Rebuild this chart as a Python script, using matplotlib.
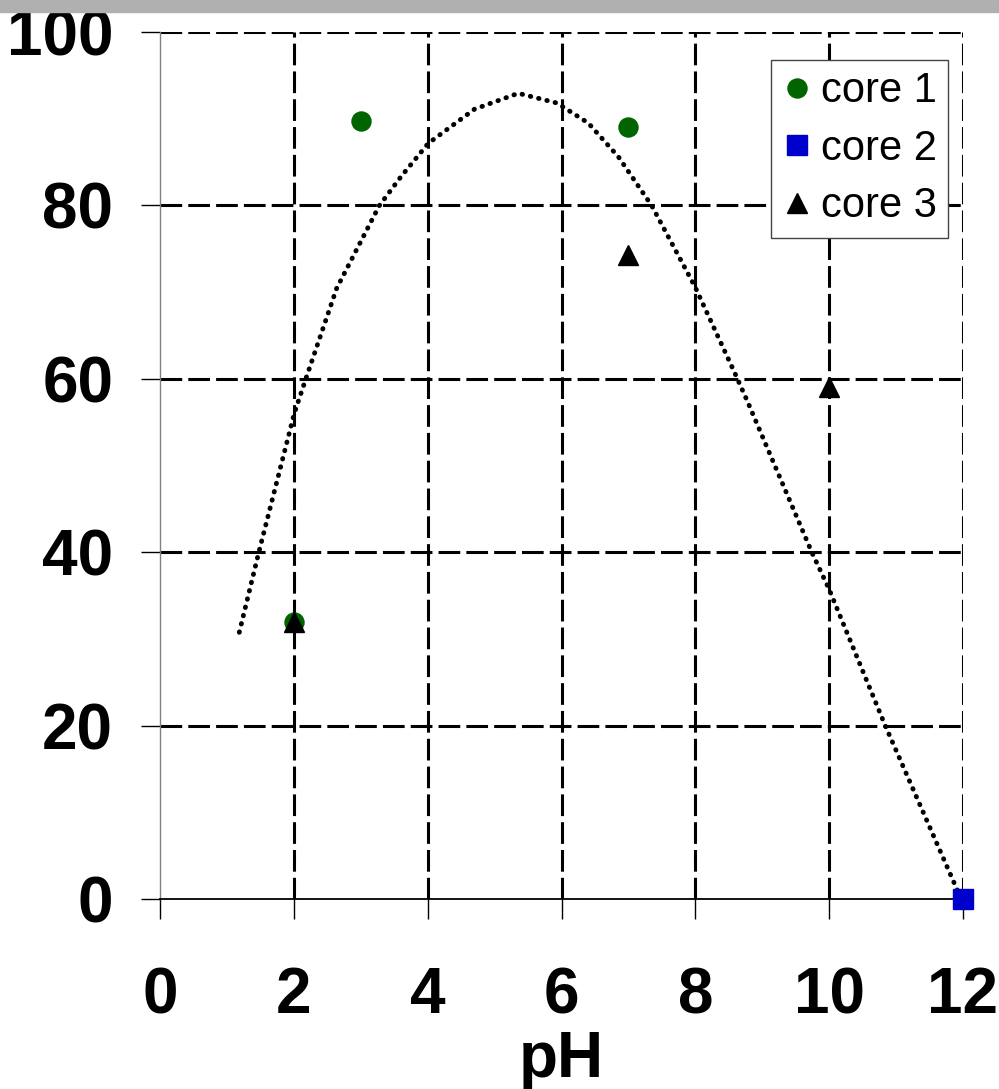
import matplotlib.pyplot as plt
import matplotlib.patches as mpatches

plt.rcParams['font.family'] = ['Liberation Sans', 'DejaVu Sans']

# data points
core1_ph = [2, 3, 7]
core1_val = [32, 89.7, 89]
core2_ph = [12]
core2_val = [0]
core3_ph = [2, 7, 10]
core3_val = [32, 74.3, 59]

# dotted trend curve
trend_ph = [1.185, 1.475, 2.007, 2.182, 2.640, 3.277, 3.6, 4.009, 4.7, 5.354,
            5.932, 6.4, 6.849, 7.348, 7.995, 8.592, 8.776, 9.739, 9.997,
            10.834, 11.914, 12.0]
trend_val = [30.76, 39.94, 56.02, 60.06, 70.44, 79.97, 83.3, 87.16, 91.1, 92.93,
             91.81, 89.5, 85.62, 79.97, 70.62, 60.63, 57.44, 40.02, 35.76,
             20.07, 1.04, 0.2]

xticks = [0, 2, 4, 6, 8, 10, 12]
yticks = [0, 20, 40, 60, 80, 100]

fig = plt.figure(figsize=(9.99, 10.89), dpi=100)
fig.patches.append(mpatches.Rectangle((0, 1 - 12/1089), 1, 12/1089,
                                      transform=fig.transFigure,
                                      color='#b0b0b0', zorder=0))
ax = fig.add_axes([160/999, 1 - 899/1089, 803/999, 867/1089])

# dashed grid, not drawn on the axis lines themselves
for v in xticks[1:]:
    ax.axvline(v, color='black', lw=2.2, linestyle=(0, (7.1, 2.0)), zorder=1)
for v in yticks[1:]:
    ax.axhline(v, color='black', lw=2.2, linestyle=(0, (7.1, 2.0)), zorder=1)

ax.plot(trend_ph, trend_val, color='black', lw=3.5,
        linestyle=(0, (0.1, 1.65)), dash_capstyle='round', zorder=3)

ax.plot(core1_ph, core1_val, 'o', color='#006400', ms=13.7, label='core 1',
        clip_on=False, zorder=4)
ax.plot(core2_ph, core2_val, 's', color='#0000cc', ms=15, label='core 2',
        clip_on=False, zorder=4)
ax.plot(core3_ph, core3_val, '^', color='black', ms=15, label='core 3',
        clip_on=False, zorder=5)

ax.set_xlim(0, 12)
ax.set_ylim(0, 100)
ax.set_xticks(xticks)
ax.set_yticks(yticks)

for s in ['top', 'right']:
    ax.spines[s].set_visible(False)
ax.spines['left'].set_color('#808080')
ax.spines['left'].set_linewidth(1.0)
ax.spines['bottom'].set_linewidth(1.3)

ax.tick_params(axis='y', direction='out', length=13.7, width=1.0,
               pad=20, labelsize=46)
ax.tick_params(axis='x', direction='out', length=14.5, width=1.0,
               pad=34, labelsize=46)
for lab in ax.get_xticklabels() + ax.get_yticklabels():
    lab.set_fontweight('bold')

ax.set_xlabel('pH', fontsize=46, fontweight='bold')
ax.xaxis.set_label_coords(0.5, -0.151)

leg = ax.legend(loc='upper right', bbox_to_anchor=(948/999, 1 - 60/1089),
                bbox_transform=fig.transFigure, borderaxespad=0,
                fontsize=30, fancybox=False, framealpha=1, edgecolor='#444444',
                borderpad=0.27, handlelength=0.7, handletextpad=0.22,
                labelspacing=0.42)
leg.get_frame().set_linewidth(1.0)
leg.set_zorder(6)

fig.savefig('out.png', dpi=100)
